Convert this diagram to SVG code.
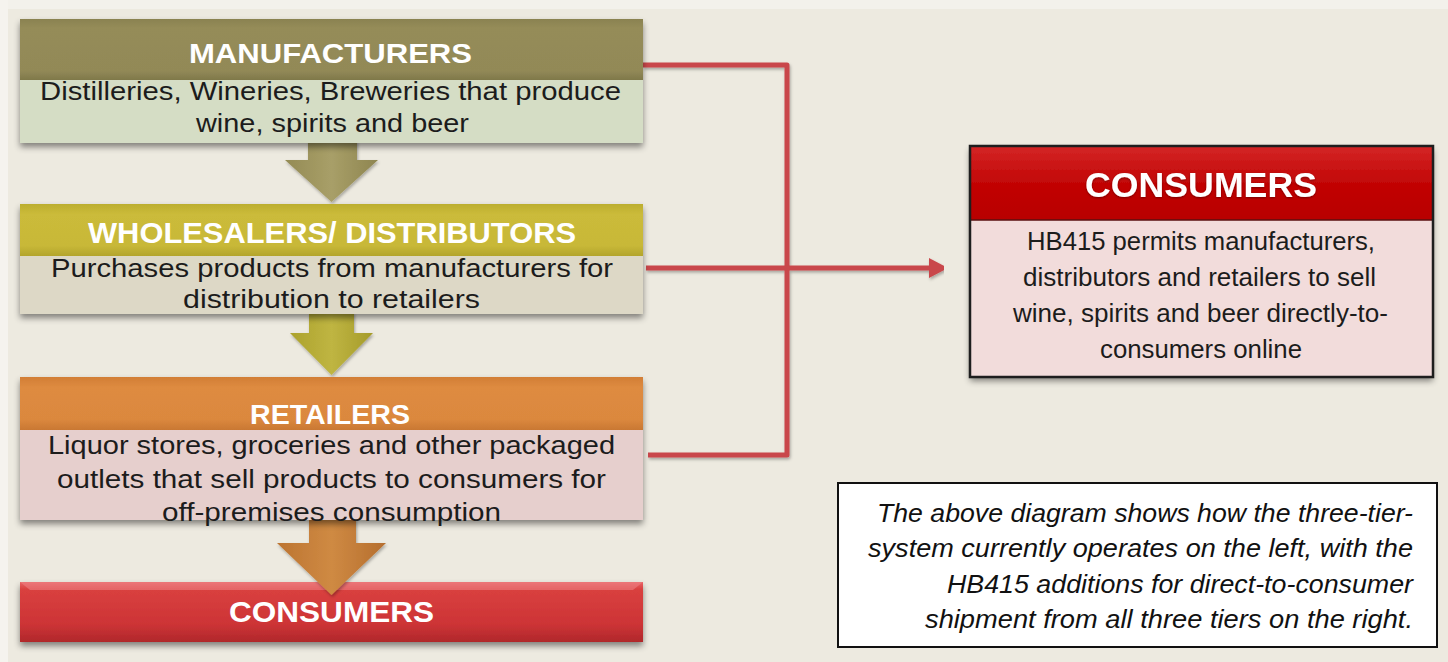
<svg xmlns="http://www.w3.org/2000/svg" width="1448" height="662" viewBox="0 0 1448 662">
  <defs>
    <style>
      .hdr { font-family: "Liberation Sans", Arial, sans-serif; font-weight: bold; fill: #ffffff; }
      .body { font-family: "Liberation Sans", Arial, sans-serif; font-size: 25px; fill: #1c1c1c; }
      .cap { font-family: "Liberation Sans", Arial, sans-serif; font-size: 25px; font-style: italic; fill: #111111; }
      .red { fill: none; stroke: #C9474B; stroke-width: 5; stroke-linejoin: round; }
    </style>
    <filter id="shadow" x="-5%" y="-10%" width="110%" height="130%">
      <feDropShadow dx="0" dy="4" stdDeviation="3" flood-color="#000000" flood-opacity="0.45"/>
    </filter>
    <filter id="lshadow" x="-5%" y="-5%" width="110%" height="115%">
      <feDropShadow dx="1" dy="2" stdDeviation="1.5" flood-color="#000000" flood-opacity="0.3"/>
    </filter>
    <filter id="tglow" x="-5%" y="-20%" width="110%" height="140%">
      <feDropShadow dx="0" dy="1" stdDeviation="1" flood-color="#000000" flood-opacity="0.4"/>
    </filter>
    <linearGradient id="gOlive" x1="0" y1="0" x2="0" y2="1">
      <stop offset="0" stop-color="#8A8250"/>
      <stop offset="0.15" stop-color="#958C59"/>
      <stop offset="0.85" stop-color="#928957"/>
      <stop offset="1" stop-color="#7F784A"/>
    </linearGradient>
    <linearGradient id="gYellow" x1="0" y1="0" x2="0" y2="1">
      <stop offset="0" stop-color="#BCAE2E"/>
      <stop offset="0.2" stop-color="#CBBB3A"/>
      <stop offset="0.8" stop-color="#C8B838"/>
      <stop offset="1" stop-color="#B3A52C"/>
    </linearGradient>
    <linearGradient id="gOrange" x1="0" y1="0" x2="0" y2="1">
      <stop offset="0" stop-color="#D27E36"/>
      <stop offset="0.2" stop-color="#DE8B40"/>
      <stop offset="0.8" stop-color="#DB883E"/>
      <stop offset="1" stop-color="#C97833"/>
    </linearGradient>
    <linearGradient id="gRedL" x1="0" y1="0" x2="0" y2="1">
      <stop offset="0" stop-color="#E86567"/>
      <stop offset="0.12" stop-color="#D9403F"/>
      <stop offset="0.7" stop-color="#CD3436"/>
      <stop offset="1" stop-color="#B0282B"/>
    </linearGradient>
    <linearGradient id="gRedR" x1="0" y1="0" x2="0" y2="1">
      <stop offset="0" stop-color="#D42626"/>
      <stop offset="0.5" stop-color="#C20606"/>
      <stop offset="1" stop-color="#B80000"/>
    </linearGradient>
    <linearGradient id="gArr1" x1="0" y1="0" x2="1" y2="0">
      <stop offset="0" stop-color="#948B55"/>
      <stop offset="0.5" stop-color="#A89F68"/>
      <stop offset="1" stop-color="#8E8550"/>
    </linearGradient>
    <linearGradient id="gArr2" x1="0" y1="0" x2="1" y2="0">
      <stop offset="0" stop-color="#ACA22C"/>
      <stop offset="0.5" stop-color="#BFB542"/>
      <stop offset="1" stop-color="#A59B2A"/>
    </linearGradient>
    <linearGradient id="gArr3" x1="0" y1="0" x2="1" y2="0">
      <stop offset="0" stop-color="#BC7431"/>
      <stop offset="0.5" stop-color="#CF8A43"/>
      <stop offset="1" stop-color="#B56E2E"/>
    </linearGradient>
    <marker id="redHead" markerUnits="userSpaceOnUse" markerWidth="20" markerHeight="22" refX="0" refY="11" orient="auto">
      <path d="M0,1 L19,11 L0,21 z" fill="#C9474B"/>
    </marker>
  </defs>

  <!-- background -->
  <rect x="0" y="0" width="1448" height="662" fill="#EDEAE0"/>
  <rect x="0" y="0" width="1448" height="9" fill="#F3F1EB"/>
  <rect x="0" y="0" width="8" height="662" fill="#F5F3EE"/>

  <!-- bottom left consumers (drawn before arrows so arrow tip overlaps it) -->
  <g id="consumers-tier">
    <rect x="20" y="582" width="623" height="60" fill="url(#gRedL)" filter="url(#shadow)"/>
    <path d="M20,582 H643 L633,590 H30 Z" fill="#EE8486" opacity="0.55"/>
    <text class="hdr" x="229" y="622" font-size="30" textLength="205" lengthAdjust="spacingAndGlyphs">CONSUMERS</text>
  </g>

  <!-- connectors -->
  <g id="connectors">
    <polygon points="308,140 357,140 357,160 378,160 331.5,202 285,160 308,160" fill="url(#gArr1)" filter="url(#lshadow)"/>
    <polygon points="309,312 354,312 354,333 373,333 331.5,375 290,333 309,333" fill="url(#gArr2)" filter="url(#lshadow)"/>
    <polygon points="309,518 356,518 356,543 386,543 331.5,595 277,543 309,543" fill="url(#gArr3)" filter="url(#lshadow)"/>
    <g filter="url(#lshadow)">
      <path class="red" d="M643,65 H787 V455 H648"/>
      <path class="red" d="M646,268 H929" marker-end="url(#redHead)"/>
    </g>
  </g>

  <g id="manufacturers">
    <g filter="url(#shadow)">
      <rect x="20" y="19" width="623" height="61" fill="url(#gOlive)"/>
      <rect x="20" y="80" width="623" height="63" fill="#D5DDC5"/>
    </g>
    <text class="hdr" x="189" y="63" font-size="28" textLength="283" lengthAdjust="spacingAndGlyphs">MANUFACTURERS</text>
    <text class="body" x="40" y="100" textLength="581" lengthAdjust="spacingAndGlyphs">Distilleries, Wineries, Breweries that produce</text>
    <text class="body" x="196" y="132" textLength="273" lengthAdjust="spacingAndGlyphs">wine, spirits and beer</text>
  </g>

  <g id="wholesalers">
    <g filter="url(#shadow)">
      <rect x="20" y="204" width="623" height="52" fill="url(#gYellow)"/>
      <rect x="20" y="256" width="623" height="58" fill="#DDD8C6"/>
    </g>
    <text class="hdr" x="88" y="243" font-size="30" textLength="488" lengthAdjust="spacingAndGlyphs">WHOLESALERS/ DISTRIBUTORS</text>
    <text class="body" x="51" y="277" textLength="562" lengthAdjust="spacingAndGlyphs">Purchases products from manufacturers for</text>
    <text class="body" x="183" y="308" textLength="297" lengthAdjust="spacingAndGlyphs">distribution to retailers</text>
  </g>

  <g id="retailers">
    <g filter="url(#shadow)">
      <rect x="20" y="377" width="623" height="53" fill="url(#gOrange)"/>
      <rect x="20" y="430" width="623" height="90" fill="#E6CFCD"/>
    </g>
    <text class="hdr" x="250" y="424" font-size="27" textLength="160" lengthAdjust="spacingAndGlyphs">RETAILERS</text>
    <text class="body" x="48" y="454" textLength="567" lengthAdjust="spacingAndGlyphs">Liquor stores, groceries and other packaged</text>
    <text class="body" x="57" y="488" textLength="549" lengthAdjust="spacingAndGlyphs">outlets that sell products to consumers for</text>
    <text class="body" x="162" y="521" textLength="339" lengthAdjust="spacingAndGlyphs">off-premises consumption</text>
  </g>

  <g id="consumers-direct">
    <g filter="url(#shadow)">
      <rect x="970" y="146" width="463" height="74" fill="url(#gRedR)"/>
      <rect x="970" y="220" width="463" height="157" fill="#F2DCDB"/>
    </g>
    <line x1="970" y1="220" x2="1433" y2="220" stroke="#5A1010" stroke-width="1.5"/>
    <rect x="970" y="146" width="463" height="231" fill="none" stroke="#1E1E1E" stroke-width="2.5"/>
    <text class="hdr" x="1085" y="197" font-size="35" textLength="232" lengthAdjust="spacingAndGlyphs" filter="url(#tglow)">CONSUMERS</text>
    <text class="body" x="1027" y="250" textLength="348" lengthAdjust="spacingAndGlyphs">HB415 permits manufacturers,</text>
    <text class="body" x="1023" y="286" textLength="353" lengthAdjust="spacingAndGlyphs">distributors and retailers to sell</text>
    <text class="body" x="1013" y="322" textLength="375" lengthAdjust="spacingAndGlyphs">wine, spirits and beer directly-to-</text>
    <text class="body" x="1100" y="358" textLength="202" lengthAdjust="spacingAndGlyphs">consumers online</text>
  </g>

  <g id="caption">
    <rect x="838" y="483" width="599" height="164" fill="#FFFFFF" stroke="#111111" stroke-width="2"/>
    <text class="cap" x="877" y="522" textLength="536" lengthAdjust="spacingAndGlyphs">The above diagram shows how the three-tier-</text>
    <text class="cap" x="868" y="557" textLength="545" lengthAdjust="spacingAndGlyphs">system currently operates on the left, with the</text>
    <text class="cap" x="947" y="593" textLength="466" lengthAdjust="spacingAndGlyphs">HB415 additions for direct-to-consumer</text>
    <text class="cap" x="925" y="628" textLength="488" lengthAdjust="spacingAndGlyphs">shipment from all three tiers on the right.</text>
  </g>
</svg>
